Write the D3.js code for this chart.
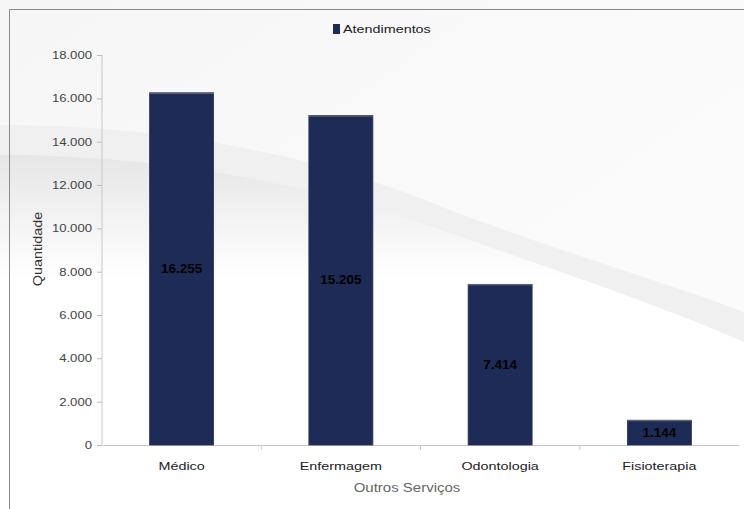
<!DOCTYPE html>
<html><head><meta charset="utf-8">
<script src="https://cdn.jsdelivr.net/npm/d3@7"></script>
<style>body{margin:0;background:#fff}svg{display:block}</style>
</head><body>
<script>
const categories = ["Médico","Enfermagem","Odontologia","Fisioterapia"];
const values = [16255,15205,7414,1144];
const valueLabels = ["16.255","15.205","7.414","1.144"];
const yTicks = [0,2000,4000,6000,8000,10000,12000,14000,16000,18000];
const seriesName = "Atendimentos";

const W=744,H=509, SX=1.25, FONT="Liberation Sans, Arial, sans-serif";
const svg=d3.select("body").append("svg").attr("width",W).attr("height",H);
const defs=svg.append("defs");
const g1=defs.append("linearGradient").attr("id","sw").attr("x1","0").attr("y1","0").attr("x2","0").attr("y2","1");
g1.append("stop").attr("offset","0").attr("stop-color","#e6e6e6");
g1.append("stop").attr("offset","0.35").attr("stop-color","#ffffff");
g1.append("stop").attr("offset","1").attr("stop-color","#ffffff");
const g0=defs.append("linearGradient").attr("id","bg").attr("x1","0").attr("y1","0").attr("x2","1").attr("y2","1");
g0.append("stop").attr("offset","0").attr("stop-color","#f6f6f6");
g0.append("stop").attr("offset","1").attr("stop-color","#fdfdfd");

// background swoosh
svg.append("rect").attr("x",0).attr("y",0).attr("width",W).attr("height",H).attr("fill","url(#bg)");
svg.append("path").attr("d","M0,125 C180,125 330,160 450,210 C560,252 660,280 744,312 L744,509 L0,509 Z").attr("fill","#f0f0f0");
svg.append("path").attr("d","M0,155 C180,155 330,190 450,233 C560,272 660,305 744,342 L744,509 L0,509 Z").attr("fill","url(#sw)");

// frame
svg.append("path").attr("d","M9.5,509 L9.5,9.5 L744,9.5").attr("fill","none").attr("stroke","#8a8a8a").attr("stroke-width",1);

const x0=102,x1=739,yTop=55,yBot=445;
const xBand=d3.scaleBand().domain(categories).range([x0,x1]);
const y=d3.scaleLinear().domain([0,18000]).range([yBot,yTop]);
const fmt=d=>d3.format(",")(d).replace(/,/g,".");

// y axis
const ya=svg.append("g").attr("transform",`translate(${x0},0)`)
 .call(d3.axisLeft(y).tickValues(yTicks).tickSize(5).tickFormat(fmt));
ya.select(".domain").attr("stroke","#c8c8c8").attr("d",`M0,${yTop}V${yBot}`);
ya.selectAll(".tick line").attr("stroke","#bbb");
ya.selectAll(".tick text").attr("font-family",FONT).attr("font-size",10.5).attr("fill","#444")
 .attr("x",0).attr("transform",`translate(-10,0) scale(${SX},1)`);

// x axis
const xa=svg.append("g").attr("transform",`translate(0,${yBot})`)
 .call(d3.axisBottom(xBand).tickSize(0).tickSizeOuter(0));
xa.select(".domain").attr("stroke","#c8c8c8");
xa.selectAll(".tick text").attr("font-family",FONT).attr("font-size",11.5).attr("fill","#222")
 .attr("y",0).attr("dy",0).attr("transform",`translate(0,25) scale(${SX},1)`);
svg.append("g").selectAll("line").data(categories.slice(1)).join("line")
 .attr("x1",d=>xBand(d)).attr("x2",d=>xBand(d)).attr("y1",yBot).attr("y2",yBot+5).attr("stroke","#c8c8c8");

// bars
const bw=64;
svg.append("g").selectAll("rect").data(values).join("rect")
 .attr("x",(d,i)=>xBand(categories[i])+xBand.bandwidth()/2-bw/2)
 .attr("width",bw)
 .attr("y",d=>y(d)).attr("height",d=>yBot-y(d))
 .attr("fill","#1e2b57").attr("stroke","#2a3455").attr("stroke-width",0.8);
svg.append("g").selectAll("line").data(values).join("line")
 .attr("x1",(d,i)=>xBand(categories[i])+xBand.bandwidth()/2-bw/2)
 .attr("x2",(d,i)=>xBand(categories[i])+xBand.bandwidth()/2+bw/2)
 .attr("y1",d=>y(d)+0.5).attr("y2",d=>y(d)+0.5).attr("stroke","#6b7080").attr("stroke-width",1);
svg.append("g").selectAll("text").data(values).join("text")
 .attr("transform",(d,i)=>`translate(${xBand(categories[i])+xBand.bandwidth()/2},${(y(d)+yBot)/2+4}) scale(1.08,1)`)
 .attr("text-anchor","middle").attr("font-family",FONT).attr("font-weight","bold").attr("font-size",12.5).attr("fill","#000")
 .text((d,i)=>valueLabels[i]);

// axis titles
svg.append("text").attr("transform","translate(42,249) rotate(-90) scale(1.2,1)").attr("text-anchor","middle")
 .attr("font-family",FONT).attr("font-size",12).attr("fill","#333").text("Quantidade");
svg.append("text").attr("transform",`translate(407,492) scale(${SX},1)`).attr("text-anchor","middle")
 .attr("font-family",FONT).attr("font-size",12).attr("fill","#666").text("Outros Serviços");

// legend
svg.append("rect").attr("x",333).attr("y",24).attr("width",7).attr("height",10).attr("fill","#1e2b57");
svg.append("text").attr("transform",`translate(343,33) scale(${SX},1)`).attr("font-family",FONT).attr("font-size",11.5).attr("fill","#222").text(seriesName);
</script>
</body></html>
